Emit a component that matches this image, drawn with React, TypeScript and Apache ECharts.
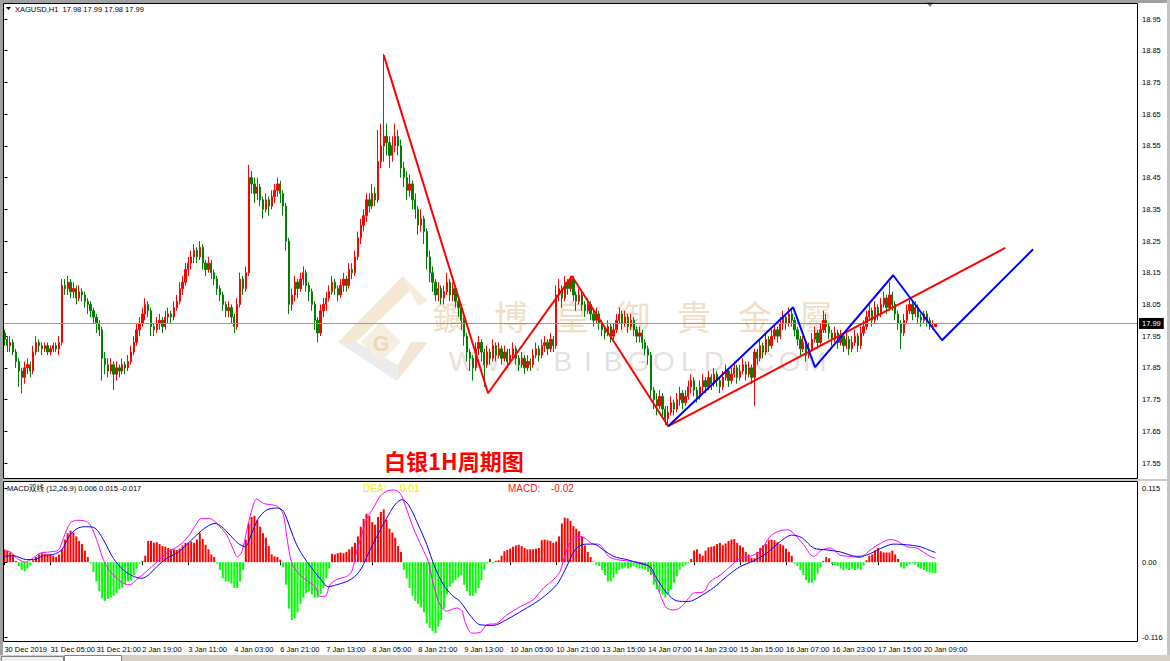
import React, { useEffect, useRef } from "react";
import * as echarts from "echarts";

// ---------- data ----------
const timeTicks = [
  "30 Dec 2019", "31 Dec 05:00", "31 Dec 21:00", "2 Jan 19:00", "3 Jan 11:00", "4 Jan 03:00",
  "6 Jan 21:00", "7 Jan 13:00", "8 Jan 05:00", "8 Jan 21:00", "9 Jan 13:00", "10 Jan 05:00",
  "10 Jan 21:00", "13 Jan 15:00", "14 Jan 07:00", "14 Jan 23:00", "15 Jan 15:00", "16 Jan 07:00",
  "16 Jan 23:00", "17 Jan 15:00", "20 Jan 09:00",
];
const TICK_STEP = 16; // bars between time labels
const SLOTS = 395; // bar slots across the chart (incl. right shift space)

// H1 candles [open, close, low, high] in cents
const candles: number[][] = [
  [1796,1794,1792,1797],[1794,1792,1790,1795],[1792,1793,1790,1795],[1793,1790,1789,1794],[1790,1787,1785,1791],
  [1787,1784,1779,1788],[1784,1782,1777,1785],[1782,1785,1780,1787],[1785,1786,1783,1788],[1786,1784,1782,1787],
  [1784,1790,1783,1792],[1790,1793,1789,1795],[1793,1792,1790,1794],[1792,1791,1789,1793],[1791,1792,1790,1793],
  [1792,1790,1789,1793],[1790,1791,1789,1792],[1791,1792,1790,1793],[1792,1791,1790,1793],[1791,1793,1789,1795],
  [1793,1811,1792,1813],[1811,1810,1808,1813],[1810,1812,1808,1814],[1812,1809,1807,1813],[1809,1810,1807,1812],
  [1810,1807,1805,1811],[1807,1809,1806,1811],[1809,1808,1806,1810],[1808,1806,1804,1809],[1806,1805,1802,1807],
  [1805,1803,1801,1806],[1803,1801,1799,1804],[1801,1799,1796,1802],[1799,1797,1795,1800],[1797,1788,1781,1798],
  [1788,1786,1783,1790],[1786,1784,1782,1788],[1784,1786,1783,1788],[1786,1783,1778,1787],[1783,1785,1781,1787],
  [1785,1784,1782,1786],[1784,1786,1783,1788],[1786,1785,1783,1787],[1785,1787,1784,1789],[1787,1790,1786,1792],
  [1790,1793,1789,1795],[1793,1797,1792,1799],[1797,1799,1795,1801],[1799,1802,1798,1804],[1802,1805,1800,1807],
  [1805,1803,1801,1806],[1803,1798,1795,1804],[1798,1797,1795,1799],[1797,1799,1796,1801],[1799,1800,1797,1802],
  [1800,1798,1796,1801],[1798,1801,1797,1803],[1801,1802,1799,1804],[1802,1801,1799,1803],[1801,1804,1800,1806],
  [1804,1806,1803,1808],[1806,1810,1805,1812],[1810,1812,1808,1814],[1812,1816,1811,1818],[1816,1818,1814,1820],
  [1818,1820,1816,1822],[1820,1822,1818,1824],[1822,1820,1818,1823],[1820,1823,1819,1825],[1823,1818,1816,1824],
  [1818,1816,1814,1819],[1816,1818,1815,1820],[1818,1815,1813,1819],[1815,1813,1811,1816],[1813,1810,1808,1814],
  [1810,1808,1806,1811],[1808,1805,1803,1809],[1805,1803,1801,1806],[1803,1804,1801,1806],[1804,1801,1799,1805],
  [1801,1798,1796,1802],[1798,1805,1797,1807],[1805,1813,1804,1815],[1813,1810,1808,1814],[1810,1815,1809,1817],
  [1815,1845,1814,1849],[1845,1843,1840,1847],[1843,1840,1837,1845],[1840,1842,1838,1845],[1842,1838,1836,1843],
  [1838,1835,1832,1839],[1835,1838,1834,1840],[1838,1836,1833,1839],[1836,1839,1835,1841],[1839,1841,1837,1843],
  [1841,1843,1839,1845],[1843,1840,1837,1844],[1840,1836,1833,1841],[1836,1825,1822,1837],[1825,1805,1802,1826],
  [1805,1808,1803,1810],[1808,1812,1806,1814],[1812,1810,1807,1813],[1810,1813,1809,1815],[1813,1815,1811,1817],
  [1815,1811,1809,1816],[1811,1809,1806,1812],[1809,1805,1803,1810],[1805,1800,1797,1806],[1800,1796,1793,1801],
  [1796,1803,1795,1805],[1803,1805,1801,1807],[1805,1807,1803,1809],[1807,1809,1806,1811],[1809,1812,1808,1814],
  [1812,1810,1808,1813],[1810,1808,1806,1811],[1808,1811,1807,1813],[1811,1813,1809,1815],[1813,1811,1809,1814],
  [1811,1816,1810,1818],[1816,1815,1813,1818],[1815,1820,1814,1822],[1820,1826,1819,1828],[1826,1830,1824,1832],
  [1830,1833,1828,1835],[1833,1838,1831,1840],[1838,1836,1834,1840],[1836,1840,1835,1843],[1840,1838,1836,1842],
  [1838,1850,1837,1860],[1850,1855,1848,1862],[1855,1858,1850,1884],[1858,1856,1852,1862],[1856,1852,1848,1858],
  [1852,1855,1850,1858],[1855,1858,1853,1862],[1858,1855,1852,1860],[1855,1848,1845,1857],[1848,1845,1842,1850],
  [1845,1841,1838,1847],[1841,1843,1839,1846],[1843,1838,1835,1844],[1838,1835,1832,1840],[1835,1830,1827,1836],
  [1830,1832,1828,1835],[1832,1828,1824,1833],[1828,1820,1816,1829],[1820,1815,1812,1822],[1815,1812,1809,1817],
  [1812,1808,1806,1813],[1808,1810,1806,1812],[1810,1807,1805,1811],[1807,1809,1805,1811],[1809,1812,1808,1815],
  [1812,1808,1806,1813],[1808,1810,1806,1812],[1810,1806,1804,1811],[1806,1804,1801,1807],[1804,1800,1797,1805],
  [1800,1795,1792,1801],[1795,1790,1787,1796],[1790,1788,1784,1791],[1788,1785,1781,1789],[1785,1791,1784,1793],
  [1791,1793,1789,1795],[1793,1790,1787,1794],[1790,1786,1779,1791],[1786,1790,1785,1792],[1790,1788,1786,1791],
  [1788,1792,1787,1794],[1792,1789,1787,1793],[1789,1791,1788,1793],[1791,1788,1786,1792],[1788,1790,1787,1792],
  [1790,1787,1785,1791],[1787,1789,1786,1791],[1789,1791,1788,1793],[1791,1788,1786,1792],[1788,1786,1784,1789],
  [1786,1788,1785,1790],[1788,1785,1783,1789],[1785,1787,1784,1789],[1787,1786,1784,1788],[1786,1789,1785,1791],
  [1789,1791,1788,1793],[1791,1789,1787,1792],[1789,1792,1788,1794],[1792,1793,1790,1795],[1793,1791,1789,1794],
  [1791,1794,1790,1796],[1794,1792,1790,1795],[1792,1808,1791,1811],[1808,1810,1806,1813],[1810,1807,1804,1811],
  [1807,1812,1806,1814],[1812,1810,1808,1813],[1810,1813,1809,1814],[1813,1808,1806,1814],[1808,1806,1803,1809],
  [1806,1808,1805,1810],[1808,1805,1803,1809],[1805,1803,1801,1806],[1803,1805,1802,1807],[1805,1802,1800,1806],
  [1802,1800,1798,1803],[1800,1802,1799,1804],[1802,1799,1797,1803],[1799,1797,1795,1800],[1797,1796,1794,1798],
  [1796,1798,1795,1800],[1798,1795,1793,1799],[1795,1797,1794,1799],[1797,1800,1796,1802],[1800,1802,1799,1804],
  [1802,1799,1797,1803],[1799,1801,1798,1803],[1801,1798,1796,1802],[1798,1800,1797,1802],[1800,1797,1795,1801],
  [1797,1795,1793,1798],[1795,1796,1793,1798],[1796,1793,1791,1797],[1793,1791,1789,1794],[1791,1789,1786,1792],
  [1789,1778,1775,1790],[1778,1775,1772,1779],[1775,1773,1770,1777],[1773,1776,1772,1778],[1776,1772,1769,1777],
  [1772,1769,1767,1773],[1769,1771,1767,1773],[1771,1774,1770,1776],[1774,1772,1770,1775],[1772,1775,1771,1777],
  [1775,1777,1773,1779],[1777,1774,1772,1778],[1774,1776,1773,1778],[1776,1779,1775,1781],[1779,1781,1777,1783],
  [1781,1778,1776,1782],[1778,1776,1774,1779],[1776,1779,1775,1781],[1779,1781,1777,1783],[1781,1779,1777,1782],
  [1779,1782,1778,1784],[1782,1780,1778,1783],[1780,1783,1779,1785],[1783,1781,1779,1784],[1781,1779,1777,1782],
  [1779,1782,1778,1784],[1782,1784,1781,1786],[1784,1781,1779,1785],[1781,1783,1780,1785],[1783,1785,1782,1787],
  [1785,1782,1780,1786],[1782,1784,1781,1786],[1784,1786,1783,1788],[1786,1783,1781,1787],[1783,1785,1782,1787],
  [1785,1782,1780,1786],[1782,1790,1773,1791],[1790,1788,1786,1791],[1788,1792,1787,1794],[1792,1790,1788,1793],
  [1790,1794,1789,1796],[1794,1792,1790,1795],[1792,1795,1791,1797],[1795,1797,1794,1799],[1797,1795,1793,1798],
  [1795,1799,1794,1801],[1799,1801,1797,1803],[1801,1799,1797,1802],[1799,1802,1798,1804],[1802,1800,1798,1804],
  [1800,1797,1795,1801],[1797,1794,1792,1798],[1794,1791,1789,1795],[1791,1793,1790,1795],[1793,1789,1787,1794],
  [1789,1791,1788,1793],[1791,1794,1790,1796],[1794,1796,1793,1798],[1796,1793,1791,1797],[1793,1797,1792,1799],
  [1797,1800,1796,1803],[1800,1798,1796,1802],[1798,1796,1794,1799],[1796,1794,1792,1797],[1794,1796,1793,1798],
  [1796,1793,1791,1797],[1793,1795,1792,1797],[1795,1792,1790,1796],[1792,1794,1791,1796],[1794,1791,1789,1795],
  [1791,1793,1790,1795],[1793,1795,1792,1797],[1795,1792,1790,1796],[1792,1796,1791,1798],[1796,1798,1795,1800],
  [1798,1801,1797,1803],[1801,1803,1800,1805],[1803,1800,1798,1804],[1800,1804,1799,1806],[1804,1802,1800,1805],
  [1802,1805,1801,1807],[1805,1807,1804,1809],[1807,1804,1802,1808],[1804,1808,1803,1812],[1808,1805,1803,1809],
  [1805,1802,1800,1806],[1802,1799,1797,1803],[1799,1796,1791,1800],[1796,1800,1795,1802],[1800,1803,1799,1805],
  [1803,1805,1802,1807],[1805,1802,1800,1806],[1802,1804,1801,1806],[1804,1801,1799,1805],[1801,1800,1798,1802],
  [1800,1802,1799,1803],[1802,1800,1798,1803],[1800,1798,1797,1801],[1798,1798,1797,1800],[1798,1799,1798,1799],
];

// MACD histogram, one value per bar
const macdHist = [
  0.02,0.018,0.015,0.012,0.002,-0.006,-0.012,-0.014,-0.01,-0.005,
  0.003,0.008,0.012,0.014,0.013,0.012,0.012,0.01,0.008,0.012,
  0.02,0.035,0.045,0.049,0.046,0.04,0.033,0.028,0.018,0.008,
  -0.002,-0.015,-0.03,-0.045,-0.056,-0.06,-0.057,-0.055,-0.052,-0.048,
  -0.042,-0.04,-0.034,-0.03,-0.028,-0.02,-0.01,-0.002,0.002,0.01,
  0.033,0.033,0.03,0.031,0.028,0.025,0.024,0.022,0.02,0.02,
  0.019,0.021,0.026,0.03,0.03,0.032,0.03,0.035,0.045,0.036,
  0.027,0.02,0.012,0.008,-0.002,-0.012,-0.025,-0.03,-0.03,-0.033,
  -0.04,-0.04,-0.03,-0.012,0.035,0.06,0.07,0.072,0.065,0.055,
  0.045,0.038,0.025,0.012,0.009,0.008,0.004,-0.008,-0.035,-0.072,
  -0.09,-0.087,-0.078,-0.065,-0.055,-0.048,-0.045,-0.05,-0.055,-0.055,
  -0.05,-0.04,-0.025,-0.01,0.013,0.012,0.014,0.015,0.014,0.016,
  0.02,0.024,0.03,0.04,0.055,0.067,0.075,0.072,0.062,0.058,
  0.07,0.078,0.082,0.066,0.052,0.046,0.038,0.025,0.016,-0.012,
  -0.025,-0.04,-0.052,-0.06,-0.065,-0.07,-0.078,-0.095,-0.102,-0.107,
  -0.11,-0.1,-0.09,-0.072,-0.05,-0.038,-0.032,-0.028,-0.024,-0.02,
  -0.035,-0.045,-0.052,-0.052,-0.048,-0.04,-0.028,-0.012,-0.002,0.005,
  -0.002,0.002,0.003,0.01,0.017,0.019,0.021,0.024,0.026,0.027,
  0.025,0.022,0.02,0.02,0.02,0.021,0.022,0.034,0.035,0.034,
  0.033,0.03,0.032,0.04,0.06,0.069,0.068,0.064,0.056,0.052,
  0.048,0.04,0.026,0.016,0.008,0.001,-0.004,-0.006,-0.012,-0.02,
  -0.03,-0.03,-0.024,-0.018,-0.012,-0.01,-0.008,-0.01,-0.008,-0.006,
  -0.008,-0.01,-0.01,-0.012,-0.015,-0.02,-0.035,-0.042,-0.046,-0.05,
  -0.055,-0.05,-0.042,-0.032,-0.022,-0.012,-0.007,-0.004,-0.002,0.005,
  0.018,0.02,0.013,0.01,0.018,0.023,0.024,0.025,0.028,0.03,
  0.026,0.029,0.033,0.035,0.036,0.03,0.026,0.023,0.016,0.012,
  0.007,0.006,0.016,0.022,0.026,0.028,0.034,0.035,0.034,0.031,
  0.028,0.026,0.021,0.016,0.01,-0.002,-0.006,-0.012,-0.02,-0.028,
  -0.032,-0.032,-0.028,-0.018,-0.008,0.002,0.008,0.006,-0.003,-0.005,
  -0.006,-0.01,-0.012,-0.01,-0.012,-0.01,-0.012,-0.01,-0.012,-0.005,
  0.003,0.01,0.012,0.018,0.022,0.017,0.015,0.015,0.015,0.018,
  0.012,0.005,-0.008,-0.01,-0.006,-0.003,-0.002,-0.004,-0.008,-0.01,
  -0.012,-0.014,-0.016,-0.017,-0.017,
];

// MACD lines [bar position, value]
const difPts = [
  [0,0.017],[2,0.016],[4.3,0.006],[7.2,0],[9.5,0.005],[12.4,0.014],[15.9,0.016],[18.8,0.019],[20.5,0.037],[22.8,0.06],
  [25.1,0.065],[28,0.064],[29.8,0.058],[31.5,0.042],[32.7,0.027],[34.4,0.004],[36.7,-0.014],[39.6,-0.027],[42,-0.034],[43.7,-0.035],
  [46,-0.027],[49.5,-0.014],[53,0],[56.5,0.014],[61.1,0.027],[64,0.04],[66.9,0.06],[68.6,0.068],[71,0.068],[73.3,0.063],
  [75,0.055],[77.4,0.042],[79.7,0.019],[81.1,0.008],[82.6,0.016],[84.3,0.048],[86.1,0.081],[87.8,0.098],[90.1,0.091],[93,0.089],
  [95.3,0.086],[97.1,0.073],[98.2,0.042],[99.4,0.009],[100.6,-0.007],[102.9,-0.02],[105.8,-0.03],[108.1,-0.038],[109.8,-0.053],[111.6,-0.053],
  [113.3,-0.035],[115.6,-0.027],[119.1,-0.022],[120.9,-0.014],[122.6,0.017],[124.3,0.042],[126.1,0.068],[128.4,0.084],[130.7,0.102],[133,0.11],
  [135.4,0.112],[137.7,0.107],[139.4,0.089],[142.3,0.053],[145.2,0.024],[147.5,0.001],[149.3,-0.035],[151.6,-0.066],[153.9,-0.076],[157.4,-0.071],
  [159.2,-0.075],[160.3,-0.092],[162.6,-0.11],[165.5,-0.109],[167.9,-0.097],[171.3,-0.095],[174.8,-0.082],[179.5,-0.069],[184.1,-0.058],[187.6,-0.04],
  [191.1,-0.027],[193.4,-0.014],[195.1,0.011],[197.4,0.035],[199.8,0.04],[202.1,0.037],[204.4,0.029],[207.3,0.027],[210.2,0.009],[213.1,0.004],
  [216.6,0.002],[220.1,0],[223.5,-0.004],[225.9,-0.02],[228.2,-0.05],[230.5,-0.071],[233.4,-0.074],[236.3,-0.066],[239.8,-0.048],[243.3,-0.046],
  [245.6,-0.03],[249.1,-0.02],[252.5,-0.007],[256,0.006],[259.5,0.009],[263,0.017],[266.5,0.04],[270,0.049],[272.9,0.05],[275.2,0.042],
  [278.1,0.027],[281.6,0.009],[284.5,0.019],[287.4,0.022],[290.8,0.011],[294.3,0.009],[297.8,0.007],[301.3,0.019],[304.8,0.029],[308.2,0.035],
  [310.6,0.033],[314,0.024],[317.5,0.022],[320.4,0.014],[322.2,0.009],[324,0.006],
];
const deaPts = [
  [0,0.009],[3.1,0.01],[7.7,0.004],[10.1,0.004],[13.5,0.01],[17,0.012],[19.9,0.019],[22.8,0.042],[25.7,0.053],[28.6,0.055],
  [31.5,0.053],[34.4,0.035],[37.9,0.006],[41.4,-0.012],[44.9,-0.022],[47.8,-0.025],[50.1,-0.02],[53,-0.007],[56.5,0.006],[60,0.014],
  [63.4,0.027],[66.9,0.042],[70.4,0.055],[73.3,0.06],[75.6,0.055],[78.5,0.042],[81.4,0.029],[83.7,0.024],[86.1,0.045],[88.4,0.068],
  [91.3,0.081],[94.8,0.084],[97.1,0.079],[99.4,0.053],[101.7,0.027],[104,0.009],[106.9,-0.009],[109.8,-0.025],[112.7,-0.038],[115.6,-0.035],
  [119.1,-0.03],[122,-0.022],[124.3,-0.009],[126.7,0.014],[129.6,0.04],[133,0.068],[135.9,0.089],[138.3,0.097],[140.6,0.089],[143.5,0.063],
  [147,0.027],[149.9,-0.009],[152.8,-0.035],[155.7,-0.051],[158.6,-0.061],[162,-0.082],[165.5,-0.097],[170.2,-0.098],[174.8,-0.089],[180.6,-0.074],
  [186.4,-0.058],[192.2,-0.035],[195.1,-0.012],[198.6,0.019],[202.1,0.028],[205,0.028],[208.5,0.019],[212,0.009],[216.6,0.004],[221.2,-0.002],
  [224.7,-0.007],[227,-0.025],[230.5,-0.048],[234,-0.06],[238.1,-0.061],[242.1,-0.053],[246.7,-0.04],[251.4,-0.022],[256,-0.007],[260.7,0.002],
  [265.3,0.014],[270,0.032],[274,0.042],[277.5,0.038],[281.6,0.022],[286.2,0.019],[290.8,0.016],[296.6,0.009],[300.1,0.011],[304.8,0.021],
  [309.4,0.028],[314,0.027],[318.7,0.024],[322.2,0.018],[324,0.015],
];

// hand-drawn analysis lines [bar position, price]
const redTrend = [[132, 18.836], [168.3, 17.77], [197.5, 18.139], [231, 17.666], [348.3, 18.228]];
const blueTrend = [[231, 17.666], [274.5, 18.041], [282.1, 17.852], [309.3, 18.142], [326.3, 17.937], [358, 18.224]];

const lastPrice = 17.99;
const headerText = "XAGUSD,H1  17.98 17.99 17.98 17.99";
const macdHeader = "MACD双线 (12,26,9) 0.006 0.015 -0.017";
const deaLabel = ["DEA:", "0.01"];
const macdLabel = ["MACD:", "-0.02"];
const chartTitle = "白银1H周期图";
const watermarkChars = ["鑛", "博", "皇", "御", "貴", "金", "屬"];
const watermarkUrl = "WWW.BIBGOLD.COM";

const AXIS_FONT = "Liberation Sans";

export default function App() {
  const ref = useRef<HTMLDivElement>(null);

  useEffect(() => {
    if (!ref.current) return;
    const chart = echarts.init(ref.current, undefined, { renderer: "svg" });

    const cats = Array.from({ length: SLOTS }, (_, i) => String(i));
    const tickFn = (i: number) => i % TICK_STEP === 0 && i / TICK_STEP < timeTicks.length;

    const wm: any[] = [];
    watermarkChars.forEach((ch, k) => {
      wm.push({
        type: "text", x: 450 + k * 61, y: 315, z: 0, silent: true,
        style: { text: ch, fill: "#f0dfc8", font: '34px "Noto Sans CJK TC"', align: "center", verticalAlign: "middle" },
      });
    });
    watermarkUrl.split("").forEach((ch, k) => {
      wm.push({
        type: "text", x: 462 + k * 25.2, y: 361, z: 0, silent: true,
        style: { text: ch, fill: "#e4e1de", font: '28px "Liberation Sans"', align: "center", verticalAlign: "middle" },
      });
    });

    const option: any = {
      animation: false,
      backgroundColor: "#ffffff",
      grid: [
        { left: 3, top: 19, width: 1135, height: 444 },
        { left: 3, top: 488, width: 1135, height: 149 },
      ],
      xAxis: [
        { type: "category", gridIndex: 0, data: cats, boundaryGap: true, show: false },
        { type: "value", gridIndex: 0, min: -0.5, max: SLOTS - 0.5, show: false },
        {
          type: "category", gridIndex: 1, data: cats, boundaryGap: true, position: "bottom", offset: 5,
          axisLine: { show: false },
          axisTick: { show: true, interval: tickFn, alignWithLabel: true, length: 3, lineStyle: { color: "#000" } },
          axisLabel: {
            interval: tickFn, align: "left", color: "#000", fontSize: 7.5, fontFamily: AXIS_FONT, margin: 3,
            formatter: (v: string) => {
              const i = Number(v);
              return i % TICK_STEP === 0 ? timeTicks[i / TICK_STEP] ?? "" : "";
            },
          },
          splitLine: { show: false },
        },
        { type: "value", gridIndex: 1, min: -0.5, max: SLOTS - 0.5, show: false },
      ],
      yAxis: [
        {
          type: "value", gridIndex: 0, position: "right", min: 17.55, max: 18.95, interval: 0.1,
          axisLine: { show: false }, splitLine: { show: false },
          axisTick: { show: true, length: 3, lineStyle: { color: "#000" } },
          axisLabel: { color: "#000", fontSize: 7.5, fontFamily: AXIS_FONT, margin: 4, formatter: (v: number) => v.toFixed(2) },
        },
        {
          type: "value", gridIndex: 1, position: "right", min: -0.116, max: 0.115, interval: 0.116,
          axisLine: { show: false }, splitLine: { show: false },
          axisTick: { show: true, length: 3, lineStyle: { color: "#000" } },
          axisLabel: {
            color: "#000", fontSize: 7.5, fontFamily: AXIS_FONT, margin: 4,
            formatter: (v: number) => (Math.abs(v) < 1e-9 ? "0.00" : v.toFixed(3)),
          },
        },
      ],
      series: [
        {
          type: "candlestick", xAxisIndex: 0, yAxisIndex: 0, z: 3, barWidth: 1.8,
          data: candles.map(([o, c, l, h]) => [o / 100, c / 100, l / 100, h / 100]),
          itemStyle: { color: "#ff0000", color0: "#007f00", borderColor: "#ff0000", borderColor0: "#007f00", borderWidth: 1 },
          markLine: {
            silent: true, symbol: ["none", "none"], animation: false,
            lineStyle: { color: "#8d9cad", width: 1, type: "solid" },
            label: {
              show: true, position: "end", formatter: lastPrice.toFixed(2), color: "#fff", backgroundColor: "#000",
              fontSize: 7.5, fontFamily: AXIS_FONT, padding: [2, 3, 1, 3], distance: 1,
            },
            data: [{ yAxis: lastPrice }],
          },
        },
        {
          type: "line", xAxisIndex: 1, yAxisIndex: 0, z: 5, data: redTrend, symbol: "none",
          lineStyle: { color: "#ff0000", width: 2 },
        },
        {
          type: "line", xAxisIndex: 1, yAxisIndex: 0, z: 5, data: blueTrend, symbol: "none",
          lineStyle: { color: "#0000ff", width: 2 },
        },
        {
          type: "bar", xAxisIndex: 2, yAxisIndex: 1, barWidth: 2, z: 2,
          data: macdHist.map((v) => ({ value: v, itemStyle: { color: v >= 0 ? "#ff0000" : "#00ff00" } })),
        },
        {
          type: "line", xAxisIndex: 3, yAxisIndex: 1, z: 4, data: difPts, symbol: "none", smooth: 0.3,
          lineStyle: { color: "#ff00ff", width: 1 },
        },
        {
          type: "line", xAxisIndex: 3, yAxisIndex: 1, z: 4, data: deaPts, symbol: "none", smooth: 0.3,
          lineStyle: { color: "#0000ff", width: 1 },
        },
      ],
      graphic: [
        // watermark logo
        { type: "polygon", z: 0, silent: true, shape: { points: [[338, 342], [403, 276], [410, 291], [356, 342]] }, style: { fill: "#f4e8d5" } },
        { type: "polygon", z: 0, silent: true, shape: { points: [[338, 342], [356, 342], [398, 365], [397, 381]] }, style: { fill: "#ebebeb" } },
        { type: "polygon", z: 0, silent: true, shape: { points: [[397, 381], [398, 365], [411, 342], [428, 342]] }, style: { fill: "#f1e6d6" } },
        { type: "polygon", z: 0, silent: true, shape: { points: [[403, 276], [428, 301], [418, 306], [410, 291]] }, style: { fill: "#f6ecdc" } },
        { type: "polygon", z: 0, silent: true, shape: { points: [[381, 322], [401, 342], [381, 362], [361, 342]] }, style: { fill: "#f6eee2" } },
        { type: "text", z: 0, silent: true, x: 381, y: 343, style: { text: "G", fill: "#ead8b8", font: 'bold 22px "Liberation Sans"', align: "center", verticalAlign: "middle" } },
        ...wm,
        // window frame
        { type: "rect", silent: true, shape: { x: 0, y: 0, width: 1170, height: 3 }, style: { fill: "#a0a0a0" } },
        { type: "rect", silent: true, shape: { x: 0, y: 0, width: 3, height: 661 }, style: { fill: "#a0a0a0" } },
        { type: "rect", silent: true, shape: { x: 1167, y: 0, width: 3, height: 661 }, style: { fill: "#c4c4c4" } },
        { type: "rect", silent: true, shape: { x: 0, y: 655, width: 1170, height: 6 }, style: { fill: "#d4d0c8" } },
        { type: "rect", silent: true, shape: { x: 1.5, y: 656.5, width: 62, height: 6 }, style: { fill: "#f0f0f0", stroke: "#808080", lineWidth: 1 } },
        { type: "rect", silent: true, shape: { x: 64.5, y: 655.5, width: 57, height: 7 }, style: { fill: "#ffffff", stroke: "#808080", lineWidth: 1 } },
        { type: "rect", silent: true, shape: { x: 3, y: 479, width: 1164, height: 2 }, style: { fill: "#c8c8c8" } },
        // pane frames
        { type: "rect", silent: true, z: 10, shape: { x: 3.5, y: 3.5, width: 1134, height: 475 }, style: { fill: "none", stroke: "#000", lineWidth: 1 } },
        { type: "rect", silent: true, z: 10, shape: { x: 3.5, y: 481.5, width: 1134, height: 160 }, style: { fill: "none", stroke: "#000", lineWidth: 1 } },
        // shift marker
        { type: "polygon", silent: true, shape: { points: [[926, 2], [934, 2], [930, 7]] }, style: { fill: "#808080" } },
        // headers
        { type: "polygon", silent: true, shape: { points: [[6, 7], [11, 7], [8.5, 10]] }, style: { fill: "#000" } },
        { type: "text", silent: true, x: 15, y: 9, style: { text: headerText, fill: "#000", font: `7.5px "${AXIS_FONT}"`, align: "left", verticalAlign: "middle" } },
        { type: "text", silent: true, x: 7, y: 488, style: { text: macdHeader, fill: "#000", font: `7.5px "${AXIS_FONT}", "Noto Sans CJK SC"`, align: "left", verticalAlign: "middle" } },
        { type: "text", silent: true, x: 363, y: 488, style: { text: deaLabel[0], fill: "#eeee00", font: `10px "${AXIS_FONT}"`, align: "left", verticalAlign: "middle" } },
        { type: "text", silent: true, x: 400, y: 488, style: { text: deaLabel[1], fill: "#eeee00", font: `10px "${AXIS_FONT}"`, align: "left", verticalAlign: "middle" } },
        { type: "text", silent: true, x: 508, y: 488, style: { text: macdLabel[0], fill: "#ff2020", font: `10px "${AXIS_FONT}"`, align: "left", verticalAlign: "middle" } },
        { type: "text", silent: true, x: 551, y: 488, style: { text: macdLabel[1], fill: "#ff2020", font: `10px "${AXIS_FONT}"`, align: "left", verticalAlign: "middle" } },
        // chart title
        {
          type: "text", silent: true, x: 384, y: 460, z: 6,
          style: {
            text: chartTitle, fill: "#ff0000", font: 'bold 22px "Noto Sans CJK SC"', align: "left", verticalAlign: "middle",
            shadowColor: "rgba(40,40,200,0.55)", shadowOffsetX: 1, shadowOffsetY: 1, shadowBlur: 0,
          },
        },
      ],
    };

    chart.setOption(option);
    return () => chart.dispose();
  }, []);

  return (
    <div
      ref={ref}
      style={{ position: "fixed", left: 0, top: 0, width: 1170, height: 661, background: "#fff" }}
    />
  );
}
